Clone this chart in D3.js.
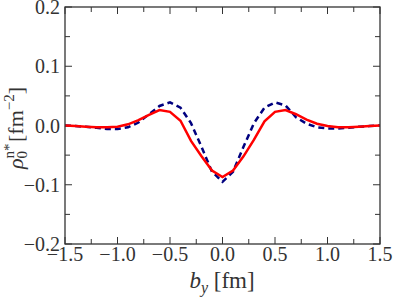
<!DOCTYPE html>
<html lang="en">
<head>
<meta charset="UTF-8">
<script src="https://d3js.org/d3.v7.min.js"></script>
<style>
  body { margin: 0; background: #fff; }
  text { font-family: "Liberation Serif", serif; fill: #333; }
</style>
</head>
<body>
<div id="chart"></div>
<script>
// impact parameter grid [fm]
var by = [-1.5, -1.4, -1.3, -1.2, -1.1, -1.0, -0.9, -0.8, -0.7, -0.6, -0.5,
          -0.4, -0.3, -0.2, -0.1, 0.0, 0.1, 0.2, 0.3, 0.4, 0.5,
          0.6, 0.7, 0.8, 0.9, 1.0, 1.1, 1.2, 1.3, 1.4, 1.5];
// solid red curve
var rhoSolid = [0.000, -0.001, -0.002, -0.003, -0.003, -0.002, 0.002, 0.009, 0.018, 0.026, 0.023,
                0.008, -0.026, -0.052, -0.076, -0.087, -0.076, -0.052, -0.024, 0.007, 0.023,
                0.026, 0.019, 0.010, 0.003, -0.001, -0.003, -0.003, -0.002, -0.001, 0.000];
// dashed blue curve
var rhoDashed = [0.000, -0.001, -0.002, -0.004, -0.006, -0.006, -0.003, 0.005, 0.019, 0.033, 0.039,
                 0.030, 0.004, -0.036, -0.078, -0.095, -0.078, -0.036, 0.004, 0.030, 0.039,
                 0.034, 0.014, 0.003, -0.003, -0.005, -0.005, -0.004, -0.002, -0.001, 0.000];
var xTicks = [-1.5, -1.0, -0.5, 0.0, 0.5, 1.0, 1.5];
var yTicks = [-0.2, -0.1, 0.0, 0.1, 0.2];

var W = 393, H = 306;
var m = { left: 65, right: 13, top: 7, bottom: 62 };

var svg = d3.select("#chart").append("svg")
    .attr("width", W).attr("height", H);

var x = d3.scaleLinear().domain([-1.5, 1.5]).range([m.left, W - m.right]);
var y = d3.scaleLinear().domain([-0.2, 0.2]).range([H - m.bottom, m.top]);

var x0 = m.left, x1 = W - m.right, y0 = H - m.bottom, y1 = m.top;

// ticks (inward, on all four sides)
var xMinor = d3.range(-1.5, 1.5001, 0.25);
var yMinor = d3.range(-0.2, 0.2001, 0.05);
var tk = svg.append("g").attr("stroke", "#333").attr("stroke-width", 1);
xMinor.forEach(function (v, i) {
    var len = i % 2 === 0 ? 7 : 5;
    tk.append("line").attr("x1", x(v)).attr("x2", x(v)).attr("y1", y0).attr("y2", y0 - len);
    tk.append("line").attr("x1", x(v)).attr("x2", x(v)).attr("y1", y1).attr("y2", y1 + len);
});
yMinor.forEach(function (v, i) {
    var len = i % 2 === 0 ? 7 : 5;
    tk.append("line").attr("x1", x0).attr("x2", x0 + len).attr("y1", y(v)).attr("y2", y(v));
    tk.append("line").attr("x1", x1).attr("x2", x1 - len).attr("y1", y(v)).attr("y2", y(v));
});

// curves
var pts = function (vals) { return by.map(function (b, i) { return [b, vals[i]]; }); };
var line = d3.line().x(function (d) { return x(d[0]); }).y(function (d) { return y(d[1]); });

svg.append("path").datum(pts(rhoDashed))
    .attr("d", line).attr("fill", "none")
    .attr("stroke", "#00007f").attr("stroke-width", 2.5)
    .attr("stroke-dasharray", "6,4");
svg.append("path").datum(pts(rhoSolid))
    .attr("d", line).attr("fill", "none")
    .attr("stroke", "#ff0000").attr("stroke-width", 2.5);

// frame
svg.append("rect").attr("x", x0).attr("y", y1)
    .attr("width", x1 - x0).attr("height", y0 - y1)
    .attr("fill", "none").attr("stroke", "#333").attr("stroke-width", 1.3);

// tick labels
var fmt = function (v) { return (v < 0 ? "\u2212" : "") + Math.abs(v).toFixed(1); };
svg.append("g").selectAll("text").data(xTicks).enter().append("text")
    .attr("x", function (d) { return x(d); })
    .attr("y", y0 + 17)
    .attr("text-anchor", "middle")
    .style("font-size", "20px")
    .text(fmt);
svg.append("g").selectAll("text").data(yTicks).enter().append("text")
    .attr("x", x0 - 5)
    .attr("y", function (d) { return y(d) + 7; })
    .attr("text-anchor", "end")
    .style("font-size", "20px")
    .text(fmt);

// axis titles
var xl = svg.append("text").attr("x", 222).attr("y", 288)
    .attr("text-anchor", "middle").style("font-size", "23px");
xl.append("tspan").style("font-style", "italic").text("b");
xl.append("tspan").attr("dy", 5).style("font-size", "16px").style("font-style", "italic").text("y");
xl.append("tspan").attr("dy", -5).text(" [fm]");

var yl = svg.append("text")
    .attr("transform", "translate(23,128) rotate(-90)")
    .attr("text-anchor", "middle").style("font-size", "22px");
yl.append("tspan").style("font-style", "italic").text("\u03c1");
yl.append("tspan").attr("dy", -9).style("font-size", "15px").text("n*");
yl.append("tspan").attr("dx", -15).attr("dy", 13).style("font-size", "15px").text("0");
yl.append("tspan").attr("dx", 9).attr("dy", -4).text("[fm");
yl.append("tspan").attr("dy", -9).style("font-size", "15px").text("\u22122");
yl.append("tspan").attr("dy", 9).text("]");
</script>
</body>
</html>
